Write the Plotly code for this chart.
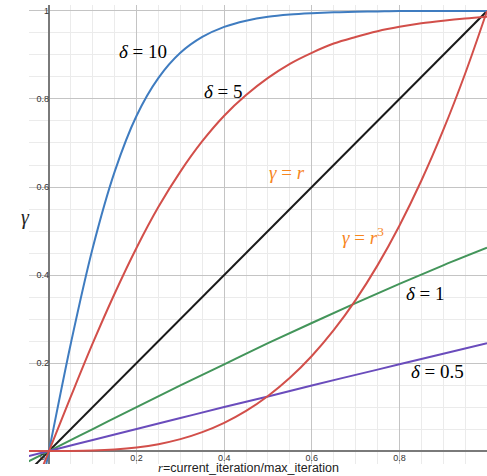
import plotly.graph_objects as go

# r sample positions
r_fine = [-0.05, 0.0, 0.05, 0.1, 0.15, 0.2, 0.25, 0.3, 0.35, 0.4, 0.45, 0.5,
          0.55, 0.6, 0.65, 0.7, 0.75, 0.8, 0.85, 0.9, 0.95, 1.0]
r_coarse = [-0.05, 0.0, 0.1, 0.2, 0.3, 0.4, 0.5, 0.6, 0.7, 0.8, 0.9, 1.0]
r_line = [-0.05, 1.0]

# estimated gamma values
g_delta10 = [-0.245, 0.0, 0.245, 0.462, 0.635, 0.762, 0.848, 0.905, 0.941, 0.964, 0.978, 0.987,
             0.992, 0.995, 0.997, 0.998, 0.999, 1.0, 1.0, 1.0, 1.0, 1.0]
g_delta5 = [-0.124, 0.0, 0.124, 0.245, 0.358, 0.462, 0.555, 0.635, 0.704, 0.762, 0.809, 0.848,
            0.880, 0.905, 0.926, 0.941, 0.954, 0.964, 0.972, 0.978, 0.983, 0.987]
g_delta1 = [-0.025, 0.0, 0.050, 0.100, 0.149, 0.197, 0.245, 0.291, 0.336, 0.380, 0.422, 0.462]
g_delta05 = [-0.0125, 0.0, 0.025, 0.050, 0.075, 0.100, 0.124, 0.149, 0.173, 0.197, 0.221, 0.245]
g_linear = [-0.05, 1.0]
g_cubic = [-0.0001, 0.0, 0.0001, 0.001, 0.0034, 0.008, 0.0156, 0.027, 0.0429, 0.064, 0.0911, 0.125,
           0.1664, 0.216, 0.2746, 0.343, 0.4219, 0.512, 0.6141, 0.729, 0.8574, 1.0]

x_ticks = [0.2, 0.4, 0.6, 0.8]
y_ticks = [0.2, 0.4, 0.6, 0.8, 1.0]
x_ticktext = ["0.2", "0.4", "0.6", "0.8"]
y_ticktext = ["0.2", "0.4", "0.6", "0.8", "1"]

BLUE = "#3f7cc0"
RED = "#d24f4a"
GREEN = "#43955a"
PURPLE = "#6a4cbc"
BLACK = "#1a1a1a"
ORANGE = "#f7861f"

fig = go.Figure()
fig.add_trace(go.Scatter(x=r_line, y=g_linear, mode="lines", line=dict(color=BLACK, width=2)))
fig.add_trace(go.Scatter(x=r_coarse, y=g_delta1, mode="lines", line=dict(color=GREEN, width=2, shape="spline")))
fig.add_trace(go.Scatter(x=r_coarse, y=g_delta05, mode="lines", line=dict(color=PURPLE, width=2, shape="spline")))
fig.add_trace(go.Scatter(x=r_fine, y=g_delta10, mode="lines", line=dict(color=BLUE, width=2, shape="spline")))
fig.add_trace(go.Scatter(x=r_fine, y=g_delta5, mode="lines", line=dict(color=RED, width=2, shape="spline")))
fig.add_trace(go.Scatter(x=r_fine, y=g_cubic, mode="lines", line=dict(color=RED, width=2, shape="spline")))

SERIF = "Liberation Serif"
labels = [
    ("<i>δ</i> = 10", 0.214, 0.907, "black"),
    ("<i>δ</i> = 5", 0.399, 0.816, "black"),
    ("<i>γ</i> = <i>r</i>", 0.543, 0.632, ORANGE),
    ("<i>γ</i> = <i>r</i><sup>3</sup>", 0.718, 0.489, ORANGE),
    ("<i>δ</i> = 1", 0.859, 0.359, "black"),
    ("<i>δ</i> = 0.5", 0.887, 0.180, "black"),
]
for txt, x, y, c in labels:
    fig.add_annotation(x=x, y=y, xref="x", yref="y", text=txt, showarrow=False,
                       font=dict(family=SERIF, size=19, color=c))

# axis titles and origin label
fig.add_annotation(x=-0.0218, y=0.538, xref="paper", yref="paper", text="<i>γ</i>",
                   showarrow=False, font=dict(family=SERIF, size=20, color="#222"))
fig.add_annotation(x=0.480, y=-0.008, xref="paper", yref="paper", yanchor="middle",
                   text='<span style="font-family:Liberation Serif"><i>r</i></span>=current_iteration/max_iteration',
                   showarrow=False, font=dict(family="Liberation Sans", size=12.5, color="#222"))
fig.add_annotation(x=-0.0137, y=-0.0136, xref="x", yref="y", text="0", showarrow=False,
                   font=dict(family="Liberation Sans", size=9, color="#333"))

grid_major = "#c4c4c4"
grid_minor = "#ebebeb"
fig.update_layout(
    width=487, height=476,
    margin=dict(l=29, r=0, t=5, b=12),
    paper_bgcolor="white", plot_bgcolor="white",
    showlegend=False,
    xaxis=dict(range=[-0.0456, 1.0], tickmode="array", tickvals=x_ticks, ticktext=x_ticktext,
               anchor="free", position=0.0283,
               showgrid=True, gridcolor=grid_major, gridwidth=1,
               minor=dict(tick0=0, dtick=0.05, showgrid=True, gridcolor=grid_minor, gridwidth=1),
               zeroline=True, zerolinecolor="#7a7a7a", zerolinewidth=2,
               showline=False, ticks="", tickfont=dict(family="Liberation Sans", size=9, color="#333")),
    yaxis=dict(range=[-0.0295, 1.0136], tickmode="array", tickvals=y_ticks, ticktext=y_ticktext,
               anchor="free", position=0.0436,
               showgrid=True, gridcolor=grid_major, gridwidth=1,
               minor=dict(tick0=0, dtick=0.05, showgrid=True, gridcolor=grid_minor, gridwidth=1),
               zeroline=True, zerolinecolor="#7a7a7a", zerolinewidth=2,
               showline=False, ticks="", tickfont=dict(family="Liberation Sans", size=9, color="#333")),
)

fig.write_html("out.html", config={"displayModeBar": False},
               post_script="document.body.style.margin='0px';document.body.style.overflow='hidden';")
